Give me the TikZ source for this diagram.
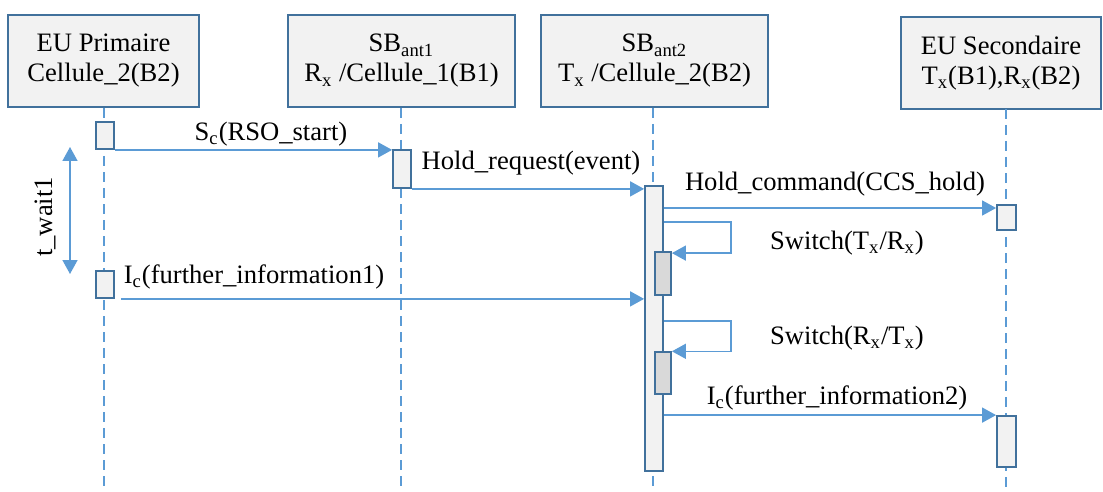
\documentclass[tikz,border=0pt]{standalone}
\usepackage{fontspec}
\setmainfont{Liberation Serif}
\newfontfamily\timesfam{Liberation Serif}
\usetikzlibrary{arrows.meta}
\definecolor{boxline}{HTML}{41719C}
\definecolor{msgline}{HTML}{5B9BD5}
\definecolor{boxfill}{HTML}{F2F2F2}
\definecolor{swfill}{HTML}{D9D9D9}
\tikzset{
  lifebox/.style={draw=boxline, fill=boxfill, line width=1pt, inner sep=0pt, align=center,
    font=\timesfam\fontsize{13.3}{15}\selectfont},
  actbox/.style={draw=boxline, fill=boxfill, line width=0.9pt, inner sep=0pt, minimum width=9pt},
  swbox/.style={actbox, fill=swfill, minimum width=8pt},
  msg/.style={draw=msgline, line width=0.75pt, ->},
  lifeline/.style={draw=msgline, line width=0.8pt, dash pattern=on 5pt off 3pt},
  lbl/.style={font=\timesfam\fontsize{13.3}{15}\selectfont, inner sep=0pt},
}
\begin{document}
\begin{tikzpicture}[x=0.5pt, y=-0.5pt, >={Triangle[length=7pt,width=7.5pt]}]
\useasboundingbox (0,0) rectangle (1103,492);
% Koepfe
\node[lifebox, minimum width=95.5pt,  minimum height=46pt] (eup) at (103.5,61)  {EU Primaire\\Cellule\_2(B2)};
\node[lifebox, minimum width=113.5pt, minimum height=46pt] (sb1) at (401.5,61)  {SB\textsubscript{ant1}\\R\textsubscript{x} /Cellule\_1(B1)};
\node[lifebox, minimum width=113.5pt, minimum height=46pt] (sb2) at (654.5,61)  {SB\textsubscript{ant2}\\T\textsubscript{x} /Cellule\_2(B2)};
\node[lifebox, minimum width=100pt,   minimum height=46pt] (eus) at (1001,63)   {EU Secondaire\\T\textsubscript{x}(B1),R\textsubscript{x}(B2)};
% Lebenslinien
\coordinate (L1) at (104,490);
\coordinate (L2) at (401,490);
\coordinate (L3) at (653,490);
\coordinate (L4top) at (1006,109);
\coordinate (L4) at (1006,490);
\draw[lifeline] (eup.south -| L1) -- (L1);
\draw[lifeline] (sb1.south -| L2) -- (L2);
\draw[lifeline] (sb2.south -| L3) -- (L3);
\draw[lifeline] (L4top) -- (L4);
% Aktivierungen
\node[actbox, minimum height=13.5pt]  (a1) at (105,135.5)  {};
\node[actbox, minimum height=19pt]    (a2) at (402,169)    {};
\node[actbox, minimum height=142.5pt] (a3) at (654,328.5)  {};
\node[actbox, minimum height=13.5pt]  (a4) at (105,284.5)  {};
\node[actbox, minimum height=12.5pt, minimum width=9.5pt] (a5) at (1006.5,217.5) {};
\node[swbox,  minimum height=21.5pt]  (a6) at (663,273.5)  {};
\node[swbox,  minimum height=21pt]    (a7) at (663,373)    {};
\node[actbox, minimum height=25.5pt, minimum width=9.5pt] (a8) at (1006.5,441.5) {};
% Nachrichten
\draw[msg] (a1.south east) -- (a1.south east -| a2.west);
\draw[msg] (a2.south east) -- (a2.south east -| a3.west);
\coordinate (hc) at (663,208);
\draw[msg] (hc -| a3.east) -- (hc -| a5.west);
\draw[msg] ([xshift=3pt]a4.south east) -- (a4.south east -| a3.west);
\draw[msg] (a8.north west -| a3.east) -- (a8.north west);
% Schleifen
\coordinate (sw1) at (731,222);
\coordinate (sw2) at (731,321);
\draw[msg] (sw1 -| a3.east) -- (sw1) |- ([yshift=-1pt]a6.north east);
\draw[msg] (sw2 -| a3.east) -- (sw2) |- ([yshift=-0.1pt]a7.north east);
% t_wait1
\coordinate (tw1) at (70,147);
\coordinate (tw2) at (70,274);
\draw[msg, <->] (tw1) -- (tw2);
\node[lbl, rotate=90] (twl) at (45,217) {t\_wait1};
% Beschriftungen
\node[lbl] (sc)  at (271,134) {S\textsubscript{c}(RSO\_start)};
\node[lbl] (hr)  at (531,163) {Hold\_request(event)};
\node[lbl] (hcl) at (835,184) {Hold\_command(CCS\_hold)};
\node[lbl] (sw1l) at (847,243) {Switch(T\textsubscript{x}/R\textsubscript{x})};
\node[lbl] (ic1) at (254,277) {I\textsubscript{c}(further\_information1)};
\node[lbl] (sw2l) at (847,338) {Switch(R\textsubscript{x}/T\textsubscript{x})};
\node[lbl] (ic2) at (837,398) {I\textsubscript{c}(further\_information2)};
\end{tikzpicture}
\end{document}
